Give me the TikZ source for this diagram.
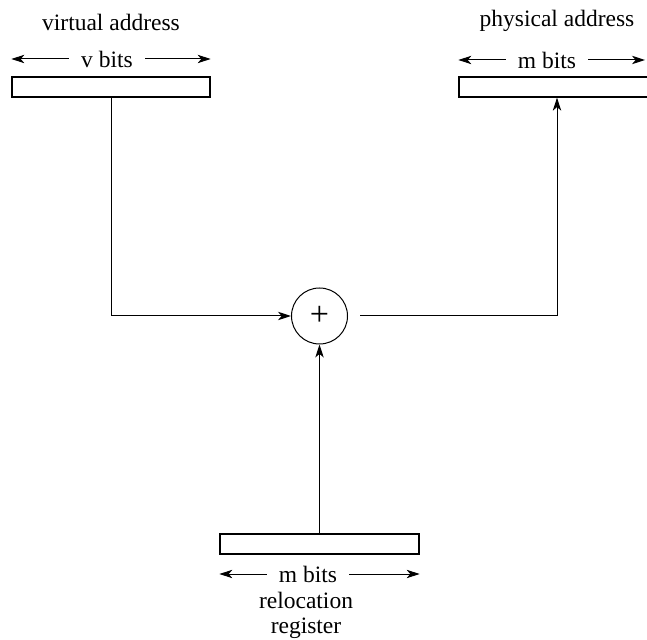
\documentclass[tikz,border=0pt]{standalone}
\usepackage{fontspec}
\setmainfont{Liberation Serif}
\usetikzlibrary{arrows.meta}
\begin{document}
\begin{tikzpicture}[x=0.5pt,y=-0.5pt,
  lbl/.style={font=\fontsize{11.75}{12.6}\selectfont, inner sep=0pt},
  bits/.style={font=\fontsize{11.75}{12.6}\selectfont, inner ysep=0pt, inner xsep=6pt},
  regbox/.style={draw, line width=0.65pt, minimum height=10pt, inner sep=0pt},
  conn/.style={line width=0.5pt},
  tip/.style={-{Stealth[length=6.5pt,width=4.2pt,inset=1.8pt]}}]
\useasboundingbox (0,0) rectangle (647,640);
% registers
\node[regbox, minimum width=99pt] (vbox) at (111,87) {};
\node[regbox, minimum width=98pt] (pbox) at (557,87) {};
\node[regbox, minimum width=99.5pt] (rbox) at (319.5,544) {};
% titles
\node[lbl] (vaddr) at (111,22) {virtual address};
\node[lbl] (paddr) at (557,21) {physical address};
\node[lbl, align=center] (rname) at (306,615) {relocation\\register};
% bit widths
\node[bits] (vbits) at (107,59) {v bits};
\node[bits] (pbits) at (547,60) {m bits};
\node[bits] (rbits) at (308,574) {m bits};
\coordinate (pend) at (645,60);
\draw[conn, tip] (vbits.west) -- (vbits.west -| vbox.west);
\draw[conn, tip] (vbits.east) -- (vbits.east -| vbox.east);
\draw[conn, tip] (pbits.west) -- (pbits.west -| pbox.west);
\draw[conn, tip] (pbits.east) -- (pend);
\draw[conn, tip] (rbits.west) -- (rbits.west -| rbox.west);
\draw[conn, tip] (rbits.east) -- (rbits.east -| rbox.east);
% adder
\node[draw, circle, minimum size=28pt, inner sep=0pt, line width=0.5pt] (plus) at (319.5,316) {\fontsize{17}{17}\selectfont +};
% connectors
\draw[conn, tip] (vbox.south) |- (plus.west);
\draw[conn, tip, shorten <=6pt] (plus.east) -| (pbox.south);
\draw[conn, tip] (rbox.north) -- (plus.south);
\end{tikzpicture}
\end{document}
